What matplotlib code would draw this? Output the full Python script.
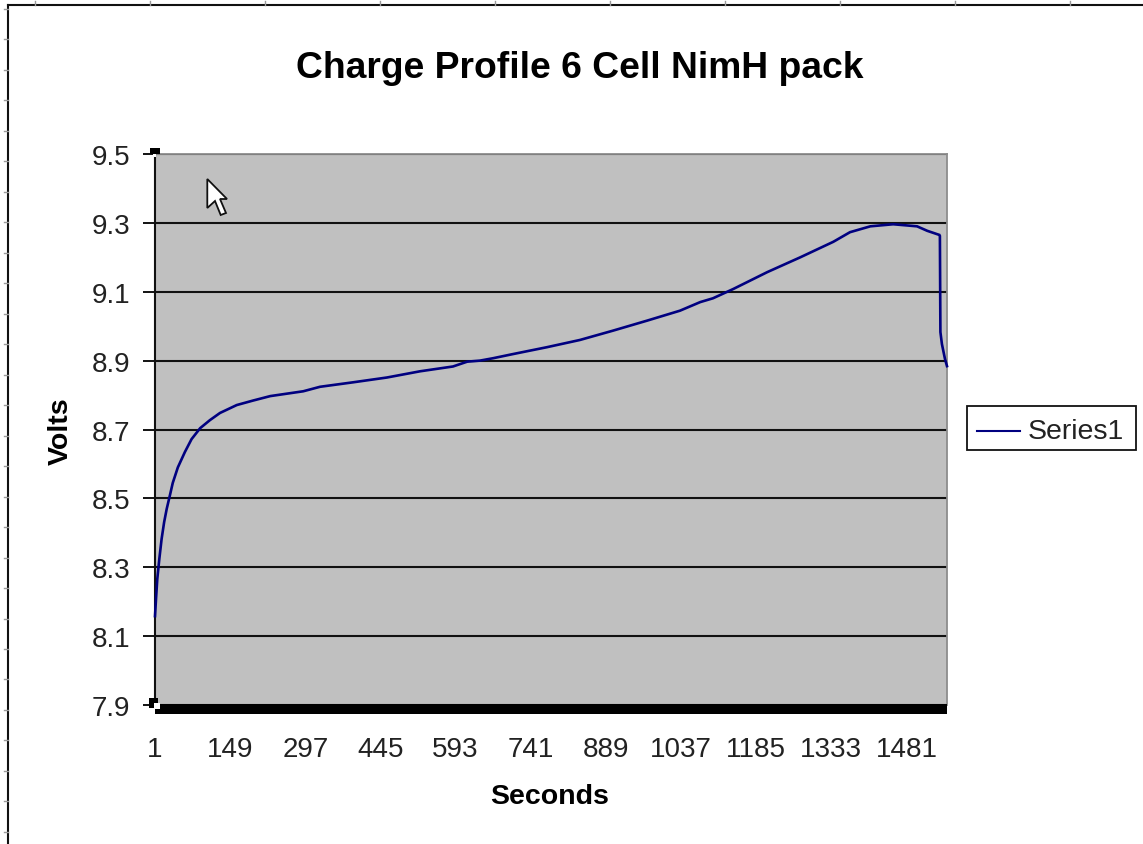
import matplotlib
matplotlib.use("Agg")
import matplotlib.pyplot as plt
from matplotlib.lines import Line2D
from matplotlib.patches import Rectangle, Polygon

plt.rcParams['font.family'] = ['Liberation Sans', 'DejaVu Sans']

W, H = 1143, 845

TITLE = "Charge Profile 6 Cell NimH pack"
X_LABEL = "Seconds"
Y_LABEL = "Volts"
SERIES_NAME = "Series1"

seconds = [1, 3, 5.5, 9.5, 14, 19, 24, 31, 36, 46, 60, 73, 90, 109, 129, 162, 194, 228,
           293, 326, 391, 458, 523, 588, 616, 641, 667, 706, 773, 838, 903, 970, 1035,
           1075, 1100, 1140, 1207, 1272, 1337, 1370, 1410, 1455, 1502, 1522, 1546, 1547,
           1548, 1551, 1557, 1561]
volts = [8.158, 8.208, 8.266, 8.324, 8.382, 8.431, 8.469, 8.513, 8.545, 8.590, 8.635,
         8.672, 8.704, 8.727, 8.748, 8.771, 8.784, 8.797, 8.811, 8.824, 8.837, 8.851,
         8.869, 8.883, 8.897, 8.900, 8.907, 8.919, 8.939, 8.960, 8.987, 9.016, 9.045,
         9.070, 9.081, 9.108, 9.157, 9.200, 9.245, 9.273, 9.290, 9.296, 9.290, 9.277,
         9.265, 9.262, 8.983, 8.948, 8.905, 8.884]
x_ticks = [1, 149, 297, 445, 593, 741, 889, 1037, 1185, 1333, 1481]
y_ticks = [7.9, 8.1, 8.3, 8.5, 8.7, 8.9, 9.1, 9.3, 9.5]


def fx(px):
    return px / W


def fy(py):
    return 1 - py / H


fig = plt.figure(figsize=(W / 100, H / 100), dpi=100, facecolor='white')
L, R, T, B = 155, 947, 155, 706
ax = fig.add_axes([fx(L), fy(B), (R - L) / W, (B - T) / H], facecolor='#c0c0c0')

ax.plot(seconds, volts, color='#000080', lw=1.9, solid_joinstyle='miter',
        label=SERIES_NAME, zorder=3, clip_on=False)
ax.set_xlim(1, 1561)
ax.set_ylim(7.9, 9.5)
ax.set_xticks(x_ticks)
ax.set_xticklabels([str(t) for t in x_ticks])
ax.set_yticks(y_ticks)
ax.set_yticklabels([f"{t:.1f}" for t in y_ticks])
ax.tick_params(axis='x', length=0, labelsize=20, pad=22, labelcolor='#222222')
ax.tick_params(axis='y', length=9, width=1.3, labelsize=20, pad=9, labelcolor='#222222')
ax.yaxis.grid(True, color='#111111', lw=1.5)
ax.set_axisbelow(True)
for s in ('top', 'right'):
    ax.spines[s].set_color('#8c8c8c')
    ax.spines[s].set_linewidth(1.3)
ax.spines['left'].set_color('#111111')
ax.spines['left'].set_linewidth(1.5)
ax.spines['bottom'].set_visible(False)

fig.text(fx(580), fy(68), TITLE, fontsize=26.8, fontweight='bold', ha='center', va='center')
fig.text(fx(550), fy(797), X_LABEL, fontsize=20.5, fontweight='bold', ha='center', va='center')
fig.text(fx(61), fy(431), Y_LABEL, fontsize=20.5, fontweight='bold', rotation=90, ha='center', va='center')


def rect(x0, y0, x1, y1, **kw):
    fig.add_artist(Rectangle((fx(x0), fy(y1)), (x1 - x0) / W, (y1 - y0) / H,
                             transform=fig.transFigure, **kw))


# thick selected x axis and selection handles
rect(155, 705, 947, 715, fc='black', ec='none', zorder=5)
rect(150, 149, 160, 155, fc='black', ec='none', zorder=6)
rect(153, 155, 156, 158, fc='white', ec='none', zorder=6)
rect(149, 699, 158, 709, fc='black', ec='none', zorder=6)
rect(154, 704, 160, 710, fc='white', ec='none', zorder=7)

# mouse cursor
cursor = [(207.3, 180), (207.3, 209), (215, 202), (220.7, 216), (226, 214), (220, 200), (227, 200)]
fig.add_artist(Polygon([(fx(a), fy(b)) for a, b in cursor], closed=True, fc='white', ec='#111111',
                       lw=1.3, transform=fig.transFigure, zorder=8))

# legend
rect(967, 407, 1136, 451, fc='white', ec='#111111', lw=1.3, zorder=4)
handles, labels = ax.get_legend_handles_labels()
fig.add_artist(Line2D([fx(977), fx(1020)], [fy(432), fy(432)], color=handles[0].get_color(), lw=1.5, zorder=5))
fig.text(fx(1028), fy(432), labels[0], fontsize=20.5, ha='left', va='center', color='#222222', zorder=5)

# sheet frame and ruler ticks
fig.add_artist(Line2D([fx(8), fx(8)], [0, fy(6)], color='#111111', lw=1.5))
fig.add_artist(Line2D([fx(8), 1], [fy(6), fy(6)], color='#111111', lw=1.5))
for px in range(35, W, 115):
    fig.add_artist(Line2D([fx(px), fx(px)], [fy(2), fy(6)], color='#9a9a9a', lw=1))
for py in [10, 40, 71, 101, 132, 162, 193, 223, 254, 284, 315, 345, 376, 406, 437, 467, 498,
           528, 559, 589, 620, 650, 680, 711, 741, 772, 802, 833]:
    fig.add_artist(Line2D([fx(4), fx(8)], [fy(py), fy(py)], color='#9a9a9a', lw=1))

fig.savefig("out.png", dpi=100)
